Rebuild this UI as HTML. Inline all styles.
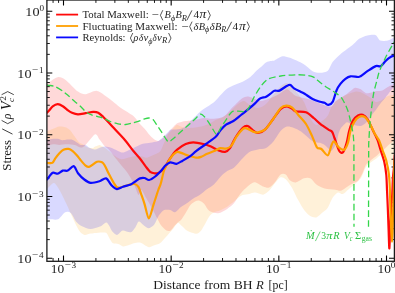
<!DOCTYPE html><html><head><meta charset="utf-8"><style>html,body{margin:0;padding:0;background:#fff;overflow:hidden}svg{display:block}text{font-family:"Liberation Serif",serif;fill:#1c1c1c}</style></head><body>
<svg style="will-change:transform" width="395" height="293" viewBox="0 0 395 293">
<defs><clipPath id="c"><rect x="46.90" y="0.00" width="347.50" height="261.30"/></clipPath></defs>
<rect width="395" height="293" fill="#fff"/>
<g clip-path="url(#c)">
<path d="M46.90,83.50 C47.19,83.33 47.36,83.20 48.90,82.30 C50.44,81.40 55.36,77.57 57.70,77.20 C60.04,76.83 62.40,77.64 65.30,79.70 C68.20,81.76 75.10,89.53 78.00,91.60 C80.90,93.67 82.89,94.30 85.60,94.20 C88.31,94.10 93.74,90.36 97.00,90.90 C100.26,91.44 104.97,95.56 108.40,98.00 C111.83,100.44 117.43,105.43 121.00,108.00 C124.57,110.57 130.69,113.71 133.40,116.00 C136.11,118.29 138.40,122.17 140.00,124.00 C141.60,125.83 143.29,127.30 144.60,128.80 C145.91,130.30 147.89,133.04 149.20,134.50 C150.51,135.96 152.49,138.07 153.80,139.00 C155.11,139.93 157.09,141.14 158.40,141.00 C159.71,140.86 161.69,139.07 163.00,138.00 C164.31,136.93 166.29,134.93 167.60,133.50 C168.91,132.07 170.89,129.44 172.20,128.00 C173.51,126.56 175.49,124.27 176.80,123.40 C178.11,122.53 180.09,122.23 181.40,121.90 C182.71,121.57 184.69,121.30 186.00,121.10 C187.31,120.90 189.31,120.66 190.60,120.50 C191.89,120.34 193.06,120.36 195.00,120.00 C196.94,119.64 201.79,118.17 204.20,118.00 C206.61,117.83 209.70,118.80 211.90,118.80 C214.10,118.80 217.63,118.56 219.60,118.00 C221.57,117.44 223.96,116.33 225.70,114.90 C227.44,113.47 230.04,109.86 231.80,108.00 C233.56,106.14 236.46,103.33 238.00,101.90 C239.54,100.47 241.29,98.77 242.60,98.00 C243.91,97.23 245.89,96.56 247.20,96.50 C248.51,96.44 249.97,96.96 251.80,97.60 C253.63,98.24 257.69,100.80 260.00,101.00 C262.31,101.20 265.40,99.94 268.00,99.00 C270.60,98.06 275.59,95.77 278.20,94.40 C280.81,93.03 284.47,89.74 286.30,89.40 C288.13,89.06 289.76,91.11 291.00,92.00 C292.24,92.89 293.70,94.86 295.00,95.60 C296.30,96.34 298.64,96.83 300.10,97.20 C301.56,97.57 303.74,97.84 305.20,98.20 C306.66,98.56 308.74,99.16 310.30,99.70 C311.86,100.24 314.39,101.31 316.10,102.00 C317.81,102.69 320.69,103.89 322.30,104.50 C323.91,105.11 326.01,106.04 327.40,106.30 C328.79,106.56 330.83,107.01 332.00,106.30 C333.17,105.59 334.36,102.49 335.60,101.30 C336.84,100.11 339.21,98.97 340.70,98.00 C342.19,97.03 344.60,95.50 346.00,94.50 C347.40,93.50 349.21,91.97 350.50,91.00 C351.79,90.03 353.57,87.97 355.00,87.70 C356.43,87.43 358.93,88.31 360.50,89.10 C362.07,89.89 364.44,92.71 366.00,93.20 C367.56,93.69 369.86,92.80 371.40,92.50 C372.94,92.20 375.24,91.39 376.80,91.10 C378.36,90.81 380.73,91.09 382.30,90.50 C383.87,89.91 386.43,87.79 387.80,87.00 C389.17,86.21 390.87,85.43 391.90,85.00 C392.93,84.57 394.56,84.14 395.00,84.00 L395.00,140.00 C394.26,140.57 391.23,142.79 389.80,144.00 C388.37,145.21 386.26,147.43 385.00,148.50 C383.74,149.57 382.23,150.41 381.00,151.50 C379.77,152.59 377.93,154.79 376.40,156.10 C374.87,157.41 371.83,159.39 370.30,160.70 C368.77,162.01 366.80,163.54 365.70,165.30 C364.60,167.06 363.70,170.80 362.60,173.00 C361.50,175.20 359.31,179.27 358.00,180.70 C356.69,182.13 354.93,182.13 353.40,183.00 C351.87,183.87 349.07,185.70 347.30,186.80 C345.53,187.90 342.76,190.27 341.00,190.70 C339.24,191.13 337.34,190.11 335.00,189.80 C332.66,189.49 327.26,189.27 324.60,188.50 C321.94,187.73 318.46,185.86 316.40,184.40 C314.34,182.94 311.96,179.17 310.20,178.30 C308.44,177.43 306.14,177.71 304.10,178.30 C302.06,178.89 297.94,182.11 295.90,182.40 C293.86,182.69 291.26,181.43 289.80,180.30 C288.34,179.17 287.01,175.33 285.70,174.50 C284.39,173.67 282.06,173.51 280.60,174.50 C279.14,175.49 277.11,179.54 275.50,181.40 C273.89,183.26 271.06,186.77 269.30,187.50 C267.54,188.23 265.24,187.26 263.20,186.50 C261.16,185.74 256.97,182.41 255.00,182.20 C253.03,181.99 251.14,183.73 249.40,185.00 C247.66,186.27 244.39,189.43 242.80,191.10 C241.21,192.77 239.57,194.96 238.30,196.70 C237.03,198.44 235.49,201.56 233.90,203.30 C232.31,205.04 229.43,207.47 227.20,208.90 C224.97,210.33 220.84,212.99 218.30,213.30 C215.76,213.61 211.43,212.46 209.40,211.10 C207.37,209.74 205.51,205.29 204.10,203.80 C202.69,202.31 200.80,201.03 199.50,200.70 C198.20,200.37 196.31,200.84 195.00,201.50 C193.69,202.16 191.63,203.66 190.30,205.30 C188.97,206.94 187.03,210.90 185.70,213.00 C184.37,215.10 182.10,218.69 181.00,220.00 C179.90,221.31 178.86,221.44 178.00,222.20 C177.14,222.96 176.10,224.09 175.00,225.30 C173.90,226.51 171.63,230.04 170.30,230.70 C168.97,231.36 167.03,230.67 165.70,229.90 C164.37,229.13 162.10,226.71 161.00,225.30 C159.90,223.89 158.60,221.10 158.00,220.00 C157.40,218.90 157.63,219.26 156.80,217.60 C155.97,215.94 153.74,211.24 152.20,208.40 C150.66,205.56 147.54,200.33 146.00,197.70 C144.46,195.07 142.49,190.41 141.40,190.00 C140.31,189.59 139.49,195.69 138.40,194.80 C137.31,193.91 135.34,186.91 133.80,183.80 C132.26,180.69 129.57,175.86 127.60,173.00 C125.63,170.14 122.63,167.09 120.00,163.80 C117.37,160.51 111.46,152.59 109.20,150.00 C106.94,147.41 105.57,147.19 104.20,145.70 C102.83,144.21 100.86,141.24 99.60,139.60 C98.34,137.96 97.06,133.86 95.40,134.20 C93.74,134.54 89.53,140.31 88.00,142.00 C86.47,143.69 85.73,145.21 84.70,146.00 C83.67,146.79 82.23,147.66 80.80,147.50 C79.37,147.34 76.67,145.37 74.70,144.90 C72.73,144.43 69.20,144.20 67.00,144.20 C64.80,144.20 61.27,144.90 59.30,144.90 C57.33,144.90 54.84,144.09 53.20,144.20 C51.56,144.31 48.70,145.44 47.80,145.70 C46.90,145.96 47.03,145.96 46.90,146.00 Z" fill="#ff0000" fill-opacity="0.15"/>
<path d="M46.90,131.50 C47.03,131.44 46.90,131.49 47.80,131.10 C48.70,130.71 51.56,129.46 53.20,128.80 C54.84,128.14 57.54,126.71 59.30,126.50 C61.06,126.29 63.96,126.76 65.50,127.30 C67.04,127.84 68.79,128.99 70.10,130.30 C71.41,131.61 73.39,134.74 74.70,136.50 C76.01,138.26 77.99,141.40 79.30,142.60 C80.61,143.80 82.66,144.20 83.90,144.90 C85.14,145.60 86.70,147.06 88.00,147.50 C89.30,147.94 92.00,148.14 93.00,148.00 C94.00,147.86 94.06,146.94 95.00,146.50 C95.94,146.06 98.50,144.90 99.60,144.90 C100.70,144.90 101.93,146.06 102.70,146.50 C103.47,146.94 104.10,147.36 105.00,148.00 C105.90,148.64 107.57,149.86 109.00,151.00 C110.43,152.14 113.21,154.83 115.00,156.00 C116.79,157.17 119.26,159.07 121.50,159.20 C123.74,159.33 128.06,157.34 130.70,156.90 C133.34,156.46 137.81,155.99 140.00,156.10 C142.19,156.21 144.26,157.80 146.00,157.70 C147.74,157.60 150.20,156.29 152.20,155.40 C154.20,154.51 158.31,153.27 160.00,151.50 C161.69,149.73 162.86,145.43 164.00,143.00 C165.14,140.57 166.86,136.36 168.00,134.50 C169.14,132.64 170.74,131.36 172.00,130.00 C173.26,128.64 175.51,125.50 176.80,125.00 C178.09,124.50 179.69,126.07 181.00,126.50 C182.31,126.93 184.00,127.86 186.00,128.00 C188.00,128.14 192.57,127.79 195.00,127.50 C197.43,127.21 200.86,126.57 203.00,126.00 C205.14,125.43 208.14,124.39 210.00,123.50 C211.86,122.61 214.29,120.61 216.00,119.80 C217.71,118.99 220.29,118.70 222.00,117.80 C223.71,116.90 226.57,114.64 228.00,113.50 C229.43,112.36 230.57,111.16 232.00,109.80 C233.43,108.44 236.29,105.26 238.00,104.00 C239.71,102.74 242.29,100.86 244.00,101.00 C245.71,101.14 248.00,104.00 250.00,105.00 C252.00,106.00 255.71,108.14 258.00,108.00 C260.29,107.86 263.71,106.00 266.00,104.00 C268.29,102.00 271.86,96.57 274.00,94.00 C276.14,91.43 279.14,87.57 281.00,86.00 C282.86,84.43 285.29,82.71 287.00,83.00 C288.71,83.29 291.43,86.43 293.00,88.00 C294.57,89.57 296.84,92.61 298.00,94.00 C299.16,95.39 300.21,96.51 301.10,97.70 C301.99,98.89 303.46,100.91 304.20,102.30 C304.94,103.69 305.57,105.80 306.30,107.40 C307.03,109.00 308.57,111.71 309.30,113.50 C310.03,115.29 310.73,118.47 311.40,119.90 C312.07,121.33 313.17,122.79 314.00,123.50 C314.83,124.21 316.16,125.17 317.20,124.90 C318.24,124.63 320.14,122.51 321.30,121.60 C322.46,120.69 324.29,119.53 325.30,118.50 C326.31,117.47 327.73,115.57 328.40,114.40 C329.07,113.23 329.49,111.50 330.00,110.30 C330.51,109.10 331.29,107.19 332.00,106.00 C332.71,104.81 334.00,103.00 335.00,102.00 C336.00,101.00 337.86,99.79 339.00,99.00 C340.14,98.21 341.86,97.14 343.00,96.50 C344.14,95.86 345.86,95.00 347.00,94.50 C348.14,94.00 349.71,93.43 351.00,93.00 C352.29,92.57 354.71,91.64 356.00,91.50 C357.29,91.36 358.57,91.50 360.00,92.00 C361.43,92.50 364.43,94.14 366.00,95.00 C367.57,95.86 369.57,97.00 371.00,98.00 C372.43,99.00 374.43,101.71 376.00,102.00 C377.57,102.29 380.29,100.86 382.00,100.00 C383.71,99.14 386.14,96.71 388.00,96.00 C389.86,95.29 394.00,95.14 395.00,95.00 L395.00,165.50 C394.43,165.43 392.00,165.43 391.00,165.00 C390.00,164.57 388.86,163.50 388.00,162.50 C387.14,161.50 385.86,159.17 385.00,158.00 C384.14,156.83 383.23,154.23 382.00,154.30 C380.77,154.37 378.07,157.29 376.40,158.50 C374.73,159.71 371.83,161.51 370.30,162.80 C368.77,164.09 367.03,165.33 365.70,167.50 C364.37,169.67 362.53,175.64 361.00,178.00 C359.47,180.36 356.57,182.57 355.00,184.00 C353.43,185.43 351.71,186.57 350.00,188.00 C348.29,189.43 344.73,193.36 343.00,194.00 C341.27,194.64 339.36,191.99 337.90,192.50 C336.44,193.01 334.24,195.43 332.80,197.60 C331.36,199.77 329.27,205.57 327.80,207.70 C326.33,209.83 324.13,211.11 322.50,212.50 C320.87,213.89 318.16,216.89 316.40,217.40 C314.64,217.91 311.96,217.16 310.20,216.10 C308.44,215.04 305.84,212.33 304.10,210.00 C302.36,207.67 299.76,203.01 298.00,199.80 C296.24,196.59 293.56,190.43 291.80,187.50 C290.04,184.57 287.30,180.76 285.70,179.30 C284.10,177.84 282.06,176.83 280.60,177.30 C279.14,177.77 277.11,180.70 275.50,182.60 C273.89,184.50 271.06,188.87 269.30,190.60 C267.54,192.33 265.24,194.41 263.20,194.70 C261.16,194.99 256.97,192.70 255.00,192.60 C253.03,192.50 251.14,193.66 249.40,194.00 C247.66,194.34 244.39,194.46 242.80,195.00 C241.21,195.54 239.57,196.86 238.30,197.80 C237.03,198.74 235.49,200.33 233.90,201.60 C232.31,202.87 229.19,205.43 227.20,206.70 C225.21,207.97 221.74,209.74 220.00,210.50 C218.26,211.26 216.40,211.31 215.00,212.00 C213.60,212.69 211.54,213.73 210.20,215.30 C208.86,216.87 206.91,220.80 205.60,223.00 C204.29,225.20 202.31,229.17 201.00,230.70 C199.69,232.23 198.37,233.70 196.40,233.70 C194.43,233.70 189.27,231.80 187.20,230.70 C185.13,229.60 183.21,227.10 181.90,226.00 C180.59,224.90 179.21,222.66 178.00,223.00 C176.79,223.34 174.71,226.87 173.40,228.40 C172.09,229.93 170.00,232.33 168.80,233.70 C167.60,235.07 166.26,236.63 165.00,238.00 C163.74,239.37 161.61,242.21 160.00,243.30 C158.39,244.39 155.26,245.04 153.70,245.60 C152.14,246.16 150.41,247.30 149.10,247.20 C147.79,247.10 145.80,245.57 144.50,244.90 C143.20,244.23 141.53,242.73 140.00,242.50 C138.47,242.27 135.57,242.86 133.80,243.30 C132.03,243.74 129.14,245.16 127.60,245.60 C126.06,246.04 124.31,246.61 123.00,246.40 C121.69,246.19 119.83,244.54 118.40,244.10 C116.97,243.66 114.11,243.84 113.00,243.30 C111.89,242.76 111.24,241.27 110.60,240.30 C109.96,239.33 109.16,237.57 108.50,236.50 C107.84,235.43 107.44,233.34 106.00,232.80 C104.56,232.26 100.59,232.59 98.40,232.70 C96.21,232.81 92.67,233.29 90.70,233.60 C88.73,233.91 86.13,235.17 84.60,234.90 C83.07,234.63 81.33,233.34 80.00,231.70 C78.67,230.06 76.66,226.07 75.30,223.40 C73.94,220.73 71.83,215.91 70.50,213.00 C69.17,210.09 67.50,206.14 66.00,203.00 C64.50,199.86 61.71,193.86 60.00,191.00 C58.29,188.14 55.71,183.43 54.00,183.00 C52.29,182.57 49.01,187.21 48.00,188.00 C46.99,188.79 47.06,188.43 46.90,188.50 Z" fill="#ffa000" fill-opacity="0.15"/>
<path d="M46.90,139.80 C47.03,139.77 46.90,139.74 47.80,139.60 C48.70,139.46 51.77,138.91 53.20,138.80 C54.63,138.69 56.49,138.59 57.80,138.80 C59.11,139.01 61.09,140.19 62.40,140.30 C63.71,140.41 65.69,139.70 67.00,139.60 C68.31,139.50 70.29,139.27 71.60,139.60 C72.91,139.93 74.89,141.14 76.20,141.90 C77.51,142.66 79.49,144.47 80.80,144.90 C82.11,145.33 84.09,144.46 85.40,144.90 C86.71,145.34 88.63,147.34 90.00,148.00 C91.37,148.66 93.43,149.61 95.00,149.50 C96.57,149.39 99.47,147.63 101.00,147.20 C102.53,146.77 104.14,146.39 105.70,146.50 C107.26,146.61 110.14,147.36 111.90,148.00 C113.66,148.64 116.47,150.34 118.00,151.00 C119.53,151.66 121.29,152.60 122.60,152.60 C123.91,152.60 125.66,151.66 127.20,151.00 C128.74,150.34 131.64,148.87 133.40,148.00 C135.16,147.13 137.97,145.56 139.50,144.90 C141.03,144.24 142.79,143.67 144.10,143.40 C145.41,143.13 147.10,143.23 148.70,143.00 C150.30,142.77 153.91,142.09 155.30,141.80 C156.69,141.51 157.30,141.66 158.40,141.00 C159.50,140.34 161.69,138.40 163.00,137.20 C164.31,136.00 166.50,133.69 167.60,132.60 C168.70,131.51 169.50,130.04 170.70,129.60 C171.90,129.16 174.67,129.59 176.00,129.50 C177.33,129.41 178.76,129.37 180.00,129.00 C181.24,128.63 183.33,127.90 184.70,126.90 C186.07,125.90 188.19,123.40 189.60,122.00 C191.01,120.60 193.19,118.50 194.60,117.10 C196.01,115.70 198.10,113.43 199.50,112.20 C200.90,110.97 203.00,109.47 204.40,108.50 C205.80,107.53 207.79,106.44 209.30,105.40 C210.81,104.36 213.31,102.76 215.00,101.20 C216.69,99.64 219.34,96.30 221.10,94.50 C222.86,92.70 225.31,90.00 227.30,88.60 C229.29,87.20 232.81,85.69 235.00,84.70 C237.19,83.71 240.41,82.80 242.60,81.70 C244.79,80.60 248.33,78.56 250.30,77.00 C252.27,75.44 254.64,72.46 256.40,70.80 C258.16,69.14 261.17,66.63 262.60,65.40 C264.03,64.17 265.27,62.83 266.40,62.20 C267.53,61.57 269.34,61.26 270.50,61.00 C271.66,60.74 273.34,60.81 274.50,60.40 C275.66,59.99 277.43,58.70 278.60,58.10 C279.77,57.50 281.07,56.24 282.70,56.20 C284.33,56.16 287.03,56.69 290.00,57.80 C292.97,58.91 300.27,62.09 303.50,64.00 C306.73,65.91 310.21,69.96 312.60,71.20 C314.99,72.44 318.03,72.77 320.20,72.70 C322.37,72.63 326.00,72.26 327.80,70.70 C329.60,69.14 331.00,64.16 332.80,61.80 C334.60,59.44 337.87,56.39 340.40,54.20 C342.93,52.01 348.41,48.14 350.50,46.50 C352.59,44.86 353.77,43.81 355.00,42.70 C356.23,41.59 357.34,39.74 359.10,38.70 C360.86,37.66 364.96,35.93 367.30,35.40 C369.64,34.87 373.64,34.26 375.50,35.00 C377.36,35.74 378.54,39.80 380.30,40.60 C382.06,41.40 385.91,41.00 387.80,40.60 C389.69,40.20 392.47,38.24 393.50,37.80 C394.53,37.36 394.79,37.54 395.00,37.50 L395.00,86.50 C394.56,86.90 393.24,87.73 391.90,89.30 C390.56,90.87 387.16,95.57 385.60,97.50 C384.04,99.43 382.31,101.13 381.00,102.80 C379.69,104.47 377.93,107.19 376.40,109.20 C374.87,111.21 371.83,114.93 370.30,116.90 C368.77,118.87 367.03,121.70 365.70,123.00 C364.37,124.30 362.53,125.67 361.00,126.00 C359.47,126.33 356.96,125.84 355.00,125.30 C353.04,124.76 348.80,122.34 347.30,122.20 C345.80,122.06 345.44,123.40 344.50,124.30 C343.56,125.20 341.57,127.09 340.70,128.50 C339.83,129.91 338.96,132.29 338.40,134.20 C337.84,136.11 337.46,139.93 336.80,141.90 C336.14,143.87 334.63,146.70 333.80,148.00 C332.97,149.30 331.77,150.93 331.00,151.00 C330.23,151.07 329.31,149.36 328.40,148.50 C327.49,147.64 325.80,145.81 324.60,145.00 C323.40,144.19 321.54,143.24 320.00,142.80 C318.46,142.36 315.43,142.59 313.80,141.90 C312.17,141.21 310.43,139.47 308.60,138.00 C306.77,136.53 303.17,133.06 301.00,131.60 C298.83,130.14 295.40,128.51 293.40,127.80 C291.40,127.09 288.80,126.17 287.00,126.60 C285.20,127.03 282.77,128.63 280.80,130.80 C278.83,132.97 275.37,139.30 273.20,141.80 C271.03,144.30 267.77,147.21 265.60,148.30 C263.43,149.39 260.31,148.87 258.00,149.40 C255.69,149.93 251.89,150.41 249.40,152.00 C246.91,153.59 242.81,158.24 240.60,160.50 C238.39,162.76 235.81,166.29 233.90,167.80 C231.99,169.31 229.10,169.83 227.20,171.10 C225.30,172.37 222.50,174.80 220.60,176.70 C218.70,178.60 215.81,182.64 213.90,184.40 C211.99,186.16 209.19,187.53 207.20,189.00 C205.21,190.47 201.97,193.36 200.00,194.70 C198.03,196.04 195.23,197.21 193.40,198.40 C191.57,199.59 188.97,201.79 187.20,203.00 C185.43,204.21 182.74,205.59 181.00,206.90 C179.26,208.21 176.53,211.76 175.00,212.20 C173.47,212.64 171.84,210.31 170.30,210.00 C168.76,209.69 165.73,209.36 164.20,210.00 C162.67,210.64 160.49,213.50 159.60,214.50 C158.71,215.50 158.79,215.54 158.00,217.00 C157.21,218.46 155.47,223.10 154.10,224.70 C152.73,226.30 149.99,228.20 148.40,228.20 C146.81,228.20 144.37,225.64 143.00,224.70 C141.63,223.76 139.90,221.21 138.80,221.60 C137.70,221.99 136.46,225.87 135.30,227.40 C134.14,228.93 132.46,231.86 130.70,232.30 C128.94,232.74 124.53,230.46 123.00,230.50 C121.47,230.54 120.87,231.96 120.00,232.60 C119.13,233.24 118.00,235.14 116.90,235.00 C115.80,234.86 113.40,232.91 112.30,231.60 C111.20,230.29 110.09,227.11 109.20,225.80 C108.31,224.49 107.41,222.29 106.10,222.40 C104.79,222.51 102.24,225.66 100.00,226.60 C97.76,227.54 92.97,229.06 90.40,229.00 C87.83,228.94 84.00,227.20 82.00,226.20 C80.00,225.20 78.00,223.89 76.40,222.00 C74.80,220.11 72.40,214.40 70.80,213.00 C69.20,211.60 67.00,211.31 65.20,212.20 C63.40,213.09 60.40,218.20 58.20,219.20 C56.00,220.20 51.41,219.16 49.80,219.20 C48.19,219.24 47.31,219.46 46.90,219.50 Z" fill="#0000ff" fill-opacity="0.15"/>
</g>
<path d="M46.90,258.20 h5.40 M394.40,258.20 h-5.40" stroke="#000" stroke-width="1.10"/><path d="M46.90,239.61 h2.90 M394.40,239.61 h-2.90" stroke="#000" stroke-width="0.90"/><path d="M46.90,228.74 h2.90 M394.40,228.74 h-2.90" stroke="#000" stroke-width="0.90"/><path d="M46.90,221.02 h2.90 M394.40,221.02 h-2.90" stroke="#000" stroke-width="0.90"/><path d="M46.90,215.04 h2.90 M394.40,215.04 h-2.90" stroke="#000" stroke-width="0.90"/><path d="M46.90,210.15 h2.90 M394.40,210.15 h-2.90" stroke="#000" stroke-width="0.90"/><path d="M46.90,206.02 h2.90 M394.40,206.02 h-2.90" stroke="#000" stroke-width="0.90"/><path d="M53.07,0.00 v2.90 M53.07,261.30 v-3.30" stroke="#000" stroke-width="0.90"/><path d="M46.90,202.43 h2.90 M394.40,202.43 h-2.90" stroke="#000" stroke-width="0.90"/><path d="M58.57,0.00 v2.90 M58.57,261.30 v-3.30" stroke="#000" stroke-width="0.90"/><path d="M46.90,199.28 h2.90 M394.40,199.28 h-2.90" stroke="#000" stroke-width="0.90"/><path d="M63.50,0.00 v5.40 M63.50,261.30 v-5.80" stroke="#000" stroke-width="1.10"/><path d="M46.90,196.45 h5.40 M394.40,196.45 h-5.40" stroke="#000" stroke-width="1.10"/><path d="M95.91,0.00 v2.90 M95.91,261.30 v-3.30" stroke="#000" stroke-width="0.90"/><path d="M46.90,177.86 h2.90 M394.40,177.86 h-2.90" stroke="#000" stroke-width="0.90"/><path d="M114.87,0.00 v2.90 M114.87,261.30 v-3.30" stroke="#000" stroke-width="0.90"/><path d="M46.90,166.99 h2.90 M394.40,166.99 h-2.90" stroke="#000" stroke-width="0.90"/><path d="M128.32,0.00 v2.90 M128.32,261.30 v-3.30" stroke="#000" stroke-width="0.90"/><path d="M46.90,159.27 h2.90 M394.40,159.27 h-2.90" stroke="#000" stroke-width="0.90"/><path d="M138.76,0.00 v2.90 M138.76,261.30 v-3.30" stroke="#000" stroke-width="0.90"/><path d="M46.90,153.29 h2.90 M394.40,153.29 h-2.90" stroke="#000" stroke-width="0.90"/><path d="M147.28,0.00 v2.90 M147.28,261.30 v-3.30" stroke="#000" stroke-width="0.90"/><path d="M46.90,148.40 h2.90 M394.40,148.40 h-2.90" stroke="#000" stroke-width="0.90"/><path d="M154.49,0.00 v2.90 M154.49,261.30 v-3.30" stroke="#000" stroke-width="0.90"/><path d="M46.90,144.27 h2.90 M394.40,144.27 h-2.90" stroke="#000" stroke-width="0.90"/><path d="M160.74,0.00 v2.90 M160.74,261.30 v-3.30" stroke="#000" stroke-width="0.90"/><path d="M46.90,140.68 h2.90 M394.40,140.68 h-2.90" stroke="#000" stroke-width="0.90"/><path d="M166.24,0.00 v2.90 M166.24,261.30 v-3.30" stroke="#000" stroke-width="0.90"/><path d="M46.90,137.53 h2.90 M394.40,137.53 h-2.90" stroke="#000" stroke-width="0.90"/><path d="M171.17,0.00 v5.40 M171.17,261.30 v-5.80" stroke="#000" stroke-width="1.10"/><path d="M46.90,134.70 h5.40 M394.40,134.70 h-5.40" stroke="#000" stroke-width="1.10"/><path d="M203.58,0.00 v2.90 M203.58,261.30 v-3.30" stroke="#000" stroke-width="0.90"/><path d="M46.90,116.11 h2.90 M394.40,116.11 h-2.90" stroke="#000" stroke-width="0.90"/><path d="M222.54,0.00 v2.90 M222.54,261.30 v-3.30" stroke="#000" stroke-width="0.90"/><path d="M46.90,105.24 h2.90 M394.40,105.24 h-2.90" stroke="#000" stroke-width="0.90"/><path d="M235.99,0.00 v2.90 M235.99,261.30 v-3.30" stroke="#000" stroke-width="0.90"/><path d="M46.90,97.52 h2.90 M394.40,97.52 h-2.90" stroke="#000" stroke-width="0.90"/><path d="M246.43,0.00 v2.90 M246.43,261.30 v-3.30" stroke="#000" stroke-width="0.90"/><path d="M46.90,91.54 h2.90 M394.40,91.54 h-2.90" stroke="#000" stroke-width="0.90"/><path d="M254.95,0.00 v2.90 M254.95,261.30 v-3.30" stroke="#000" stroke-width="0.90"/><path d="M46.90,86.65 h2.90 M394.40,86.65 h-2.90" stroke="#000" stroke-width="0.90"/><path d="M262.16,0.00 v2.90 M262.16,261.30 v-3.30" stroke="#000" stroke-width="0.90"/><path d="M46.90,82.52 h2.90 M394.40,82.52 h-2.90" stroke="#000" stroke-width="0.90"/><path d="M268.41,0.00 v2.90 M268.41,261.30 v-3.30" stroke="#000" stroke-width="0.90"/><path d="M46.90,78.93 h2.90 M394.40,78.93 h-2.90" stroke="#000" stroke-width="0.90"/><path d="M273.91,0.00 v2.90 M273.91,261.30 v-3.30" stroke="#000" stroke-width="0.90"/><path d="M46.90,75.78 h2.90 M394.40,75.78 h-2.90" stroke="#000" stroke-width="0.90"/><path d="M278.84,0.00 v5.40 M278.84,261.30 v-5.80" stroke="#000" stroke-width="1.10"/><path d="M46.90,72.95 h5.40 M394.40,72.95 h-5.40" stroke="#000" stroke-width="1.10"/><path d="M311.25,0.00 v2.90 M311.25,261.30 v-3.30" stroke="#000" stroke-width="0.90"/><path d="M46.90,54.36 h2.90 M394.40,54.36 h-2.90" stroke="#000" stroke-width="0.90"/><path d="M330.21,0.00 v2.90 M330.21,261.30 v-3.30" stroke="#000" stroke-width="0.90"/><path d="M46.90,43.49 h2.90 M394.40,43.49 h-2.90" stroke="#000" stroke-width="0.90"/><path d="M343.66,0.00 v2.90 M343.66,261.30 v-3.30" stroke="#000" stroke-width="0.90"/><path d="M46.90,35.77 h2.90 M394.40,35.77 h-2.90" stroke="#000" stroke-width="0.90"/><path d="M354.10,0.00 v2.90 M354.10,261.30 v-3.30" stroke="#000" stroke-width="0.90"/><path d="M46.90,29.79 h2.90 M394.40,29.79 h-2.90" stroke="#000" stroke-width="0.90"/><path d="M362.62,0.00 v2.90 M362.62,261.30 v-3.30" stroke="#000" stroke-width="0.90"/><path d="M46.90,24.90 h2.90 M394.40,24.90 h-2.90" stroke="#000" stroke-width="0.90"/><path d="M369.83,0.00 v2.90 M369.83,261.30 v-3.30" stroke="#000" stroke-width="0.90"/><path d="M46.90,20.77 h2.90 M394.40,20.77 h-2.90" stroke="#000" stroke-width="0.90"/><path d="M376.08,0.00 v2.90 M376.08,261.30 v-3.30" stroke="#000" stroke-width="0.90"/><path d="M46.90,17.18 h2.90 M394.40,17.18 h-2.90" stroke="#000" stroke-width="0.90"/><path d="M381.58,0.00 v2.90 M381.58,261.30 v-3.30" stroke="#000" stroke-width="0.90"/><path d="M46.90,14.03 h2.90 M394.40,14.03 h-2.90" stroke="#000" stroke-width="0.90"/><path d="M386.51,0.00 v5.40 M386.51,261.30 v-5.80" stroke="#000" stroke-width="1.10"/><path d="M46.90,11.20 h5.40 M394.40,11.20 h-5.40" stroke="#000" stroke-width="1.10"/>
<g clip-path="url(#c)">
<path d="M46.90,112.80 C47.19,112.51 48.07,111.71 48.90,110.80 C49.73,109.89 51.44,107.34 52.70,106.40 C53.96,105.46 56.26,104.23 57.70,104.20 C59.14,104.17 61.40,105.37 62.80,106.20 C64.20,107.03 66.19,109.06 67.50,110.00 C68.81,110.94 70.50,112.17 72.00,112.80 C73.50,113.43 76.06,114.34 78.00,114.40 C79.94,114.46 83.43,113.56 85.60,113.20 C87.77,112.84 91.40,111.97 93.20,111.90 C95.00,111.83 96.76,111.97 98.20,112.70 C99.64,113.43 101.57,115.36 103.30,117.00 C105.03,118.64 108.20,121.97 110.30,124.20 C112.40,126.43 115.80,130.20 118.00,132.60 C120.20,135.00 123.50,138.37 125.70,141.00 C127.90,143.63 131.37,148.50 133.40,151.00 C135.43,153.50 138.10,156.23 139.90,158.50 C141.70,160.77 144.47,164.94 146.00,166.90 C147.53,168.86 149.39,171.29 150.60,172.20 C151.81,173.11 153.40,173.19 154.50,173.30 C155.60,173.41 157.23,173.40 158.30,173.00 C159.37,172.60 161.04,171.31 162.00,170.50 C162.96,169.69 164.00,168.77 165.00,167.30 C166.00,165.83 167.79,162.16 169.00,160.20 C170.21,158.24 172.29,155.16 173.50,153.60 C174.71,152.04 175.76,150.67 177.50,149.30 C179.24,147.93 183.44,145.00 185.70,144.00 C187.96,143.00 190.77,142.30 193.30,142.30 C195.83,142.30 200.87,143.39 203.40,144.00 C205.93,144.61 208.83,145.69 211.00,146.60 C213.17,147.51 216.60,149.64 218.60,150.40 C220.60,151.16 223.37,152.23 225.00,151.90 C226.63,151.57 228.54,150.09 230.00,148.10 C231.46,146.11 233.37,140.90 235.20,138.00 C237.03,135.10 241.00,129.51 242.80,127.80 C244.60,126.09 246.34,125.63 247.80,126.00 C249.26,126.37 251.54,129.40 253.00,130.40 C254.46,131.40 256.20,133.19 258.00,133.00 C259.80,132.81 263.43,131.10 265.60,129.10 C267.77,127.10 271.03,121.89 273.20,119.00 C275.37,116.11 278.83,110.71 280.80,108.90 C282.77,107.09 285.37,106.30 287.00,106.30 C288.63,106.30 290.91,108.17 292.20,108.90 C293.49,109.63 294.03,110.93 296.00,111.40 C297.97,111.87 303.47,111.26 306.00,112.20 C308.53,113.14 311.67,116.34 313.70,118.00 C315.73,119.66 318.10,122.14 320.20,123.80 C322.30,125.46 326.69,128.43 328.40,129.60 C330.11,130.77 331.33,130.80 332.20,132.00 C333.07,133.20 333.51,135.33 334.50,138.00 C335.49,140.67 337.89,148.67 339.10,150.70 C340.31,152.73 341.91,153.36 343.00,152.20 C344.09,151.04 345.81,145.67 346.70,142.60 C347.59,139.53 348.30,133.84 349.20,130.70 C350.10,127.56 351.74,122.77 353.00,120.60 C354.26,118.43 356.61,116.33 358.00,115.50 C359.39,114.67 361.33,114.26 362.70,114.80 C364.07,115.34 366.20,117.21 367.60,119.30 C369.00,121.39 371.40,127.11 372.50,129.40 C373.60,131.69 374.59,133.79 375.30,135.30 C376.01,136.81 376.74,137.90 377.50,140.00 C378.26,142.10 379.63,146.86 380.60,150.00 C381.57,153.14 383.49,158.43 384.30,162.00 C385.11,165.57 385.91,171.00 386.30,175.00 C386.69,179.00 386.79,185.29 387.00,190.00 C387.21,194.71 387.57,202.29 387.80,208.00 C388.03,213.71 388.39,224.24 388.60,230.00 C388.81,235.76 389.11,247.44 389.30,248.30 C389.49,249.16 389.69,240.76 389.90,236.00 C390.11,231.24 390.47,220.86 390.80,215.00 C391.13,209.14 391.90,200.29 392.20,195.00 C392.50,189.71 392.66,181.86 392.90,178.00 C393.14,174.14 393.63,171.29 393.90,168.00 C394.17,164.71 394.67,156.86 394.80,155.00" fill="none" stroke="#ff0a0a" stroke-width="2.2" stroke-linejoin="round" stroke-linecap="round"/>
<path d="M46.90,162.90 C47.67,162.90 51.10,163.56 52.30,162.90 C53.50,162.24 54.29,159.69 55.30,158.30 C56.31,156.91 58.23,154.43 59.40,153.20 C60.57,151.97 62.19,150.31 63.50,149.70 C64.81,149.09 67.29,148.70 68.60,148.90 C69.91,149.10 71.53,150.20 72.70,151.10 C73.87,152.00 75.76,154.03 76.80,155.20 C77.84,156.37 78.74,157.81 80.00,159.30 C81.26,160.79 84.26,164.53 85.60,165.60 C86.94,166.67 87.77,167.34 89.40,166.80 C91.03,166.26 95.20,162.44 97.00,161.80 C98.80,161.16 100.91,161.80 102.00,162.30 C103.09,162.80 103.57,163.54 104.60,165.30 C105.63,167.06 107.89,172.07 109.20,174.60 C110.51,177.13 112.60,181.14 113.80,183.00 C115.00,184.86 116.21,187.10 117.60,187.60 C118.99,188.10 121.73,186.93 123.50,186.50 C125.27,186.07 128.43,184.96 130.00,184.60 C131.57,184.24 133.30,183.69 134.50,184.00 C135.70,184.31 137.41,185.26 138.40,186.80 C139.39,188.34 140.53,192.37 141.40,194.80 C142.27,197.23 143.44,200.43 144.50,203.80 C145.56,207.17 147.54,218.19 148.80,218.40 C150.06,218.61 151.94,209.36 153.30,205.30 C154.66,201.24 157.24,193.07 158.30,190.00 C159.36,186.93 159.86,186.66 160.70,183.80 C161.54,180.94 163.04,173.30 164.20,170.00 C165.36,166.70 167.49,162.90 168.80,160.70 C170.11,158.50 172.20,155.87 173.40,154.60 C174.60,153.33 175.89,151.97 177.20,151.80 C178.51,151.63 180.94,152.83 182.60,153.40 C184.26,153.97 186.83,155.19 188.80,155.80 C190.77,156.41 194.66,157.54 196.40,157.70 C198.14,157.86 199.46,157.46 201.00,156.90 C202.54,156.34 205.20,154.67 207.20,153.80 C209.20,152.93 213.17,151.61 215.00,150.80 C216.83,149.99 218.39,148.41 220.00,148.10 C221.61,147.79 224.67,148.96 226.30,148.60 C227.93,148.24 229.94,147.30 231.40,145.60 C232.86,143.90 234.87,139.06 236.50,136.70 C238.13,134.34 241.36,130.29 242.80,129.10 C244.24,127.91 245.14,128.04 246.60,128.40 C248.06,128.76 251.37,131.03 253.00,131.60 C254.63,132.17 256.20,132.76 258.00,132.40 C259.80,132.04 263.43,131.01 265.60,129.10 C267.77,127.19 271.03,122.00 273.20,119.00 C275.37,116.00 278.93,110.01 280.80,108.10 C282.67,106.19 284.67,105.67 286.30,105.60 C287.93,105.53 290.46,106.23 292.20,107.60 C293.94,108.97 296.53,112.86 298.50,115.20 C300.47,117.54 304.10,121.11 306.00,124.00 C307.90,126.89 310.24,132.07 311.80,135.40 C313.36,138.73 315.53,145.36 316.90,147.30 C318.27,149.24 319.84,147.86 321.40,149.00 C322.96,150.14 326.36,155.84 327.80,155.30 C329.24,154.76 330.61,147.19 331.50,145.20 C332.39,143.21 332.91,141.04 334.00,141.40 C335.09,141.76 337.64,146.51 339.10,147.70 C340.56,148.89 342.93,150.43 344.20,149.70 C345.47,148.97 347.10,145.31 348.00,142.60 C348.90,139.89 349.60,133.67 350.50,130.70 C351.40,127.73 353.04,123.79 354.30,121.80 C355.56,119.81 357.86,117.51 359.30,116.80 C360.74,116.09 362.94,115.90 364.40,116.80 C365.86,117.70 368.06,120.76 369.50,123.10 C370.94,125.44 373.43,131.19 374.50,133.20 C375.57,135.21 376.31,136.09 377.00,137.20 C377.69,138.31 378.51,139.17 379.30,141.00 C380.09,142.83 381.47,147.07 382.50,150.00 C383.53,152.93 385.57,157.93 386.50,161.50 C387.43,165.07 388.51,170.93 389.00,175.00 C389.49,179.07 389.70,185.29 389.90,190.00 C390.10,194.71 390.20,202.00 390.40,208.00 C390.60,214.00 391.07,227.14 391.30,232.00 C391.53,236.86 391.81,242.00 392.00,242.00 C392.19,242.00 392.43,236.86 392.60,232.00 C392.77,227.14 393.03,214.00 393.20,208.00 C393.37,202.00 393.69,194.71 393.80,190.00 C393.91,185.29 393.89,179.29 394.00,175.00 C394.11,170.71 394.51,162.14 394.60,160.00" fill="none" stroke="#ffa000" stroke-width="2.2" stroke-linejoin="round" stroke-linecap="round"/>
<path d="M46.90,179.50 C47.00,179.39 46.77,179.67 47.60,178.70 C48.43,177.73 51.26,173.41 52.70,172.70 C54.14,171.99 56.26,174.00 57.70,173.70 C59.14,173.40 61.36,171.04 62.80,170.60 C64.24,170.16 66.24,171.24 67.80,170.60 C69.36,169.96 72.24,165.73 73.70,166.10 C75.16,166.47 76.49,171.29 78.00,173.20 C79.51,175.11 82.50,178.13 84.30,179.50 C86.10,180.87 88.43,182.56 90.60,182.80 C92.77,183.04 97.29,181.83 99.50,181.20 C101.71,180.57 104.39,177.81 106.10,178.40 C107.81,178.99 109.96,183.77 111.50,185.30 C113.04,186.83 115.26,188.89 116.90,189.10 C118.54,189.31 121.03,187.46 123.00,186.80 C124.97,186.14 128.94,185.26 130.70,184.50 C132.46,183.74 133.97,182.37 135.30,181.50 C136.63,180.63 138.69,178.90 140.00,178.40 C141.31,177.90 143.20,177.77 144.50,178.00 C145.80,178.23 147.57,180.21 149.10,180.00 C150.63,179.79 153.49,177.83 155.20,176.50 C156.91,175.17 159.60,172.30 161.10,170.70 C162.60,169.10 164.39,166.50 165.70,165.30 C167.01,164.10 168.76,162.51 170.30,162.30 C171.84,162.09 174.74,164.03 176.50,163.80 C178.26,163.57 180.63,161.80 182.60,160.70 C184.57,159.60 188.33,157.51 190.30,156.10 C192.27,154.69 194.16,152.53 196.40,150.80 C198.64,149.07 203.20,146.04 206.00,144.00 C208.80,141.96 213.96,138.43 216.00,136.50 C218.04,134.57 218.91,132.16 220.30,130.50 C221.69,128.84 223.83,126.26 225.70,124.90 C227.57,123.54 231.21,122.41 233.40,121.00 C235.59,119.59 238.81,116.74 241.00,115.00 C243.19,113.26 246.70,110.46 248.70,108.80 C250.70,107.14 253.46,104.83 255.00,103.40 C256.54,101.97 258.43,99.63 259.50,98.80 C260.57,97.97 261.63,97.86 262.50,97.60 C263.37,97.34 264.50,97.53 265.60,97.00 C266.70,96.47 268.94,94.79 270.20,93.90 C271.46,93.01 273.07,91.27 274.40,90.80 C275.73,90.33 277.87,91.21 279.50,90.60 C281.13,89.99 284.54,87.27 285.80,86.50 C287.06,85.73 287.63,85.41 288.30,85.20 C288.97,84.99 289.69,84.56 290.50,85.00 C291.31,85.44 292.50,87.31 294.00,88.30 C295.50,89.29 299.43,91.09 301.00,91.90 C302.57,92.71 303.34,92.99 305.00,94.00 C306.66,95.01 310.43,97.89 312.60,99.00 C314.77,100.11 318.49,101.26 320.20,101.80 C321.91,102.34 323.43,102.36 324.60,102.80 C325.77,103.24 327.23,105.07 328.40,104.90 C329.57,104.73 331.63,103.70 332.80,101.60 C333.97,99.50 335.51,92.73 336.60,90.20 C337.69,87.67 339.14,85.53 340.40,83.90 C341.66,82.27 343.96,79.89 345.40,78.80 C346.84,77.71 348.70,76.56 350.50,76.30 C352.30,76.04 356.56,77.01 358.00,77.00 C359.44,76.99 359.14,77.10 360.60,76.20 C362.06,75.30 366.03,72.14 368.20,70.70 C370.37,69.26 374.00,66.76 375.80,66.10 C377.60,65.44 379.36,66.89 380.80,66.10 C382.24,65.31 384.44,61.93 385.90,60.60 C387.36,59.27 389.70,57.53 391.00,56.80 C392.30,56.07 394.43,55.69 395.00,55.50" fill="none" stroke="#0a0aff" stroke-width="2.2" stroke-linejoin="round" stroke-linecap="round"/>
<path d="M46.90,85.00 C47.19,85.04 47.71,85.07 48.90,85.30 C50.09,85.53 53.21,85.76 55.20,86.60 C57.19,87.44 60.96,89.93 62.80,91.20 C64.64,92.47 66.47,94.09 68.10,95.50 C69.73,96.91 72.44,99.56 74.20,101.10 C75.96,102.64 78.71,104.74 80.40,106.30 C82.09,107.86 84.40,110.77 86.00,112.00 C87.60,113.23 89.91,114.24 91.60,114.90 C93.29,115.56 96.03,116.09 97.80,116.60 C99.57,117.11 102.21,117.80 104.00,118.50 C105.79,119.20 108.30,120.74 110.30,121.50 C112.30,122.26 115.80,123.37 118.00,123.80 C120.20,124.23 123.50,124.66 125.70,124.50 C127.90,124.34 131.21,123.29 133.40,122.70 C135.59,122.11 139.40,120.96 141.00,120.40 C142.60,119.84 143.43,119.14 144.60,118.80 C145.77,118.46 148.00,117.89 149.20,118.00 C150.40,118.11 151.90,118.60 153.00,119.60 C154.10,120.60 155.69,123.24 156.90,125.00 C158.11,126.76 160.30,130.04 161.50,131.90 C162.70,133.76 164.31,136.59 165.30,138.00 C166.29,139.41 167.41,141.59 168.40,141.80 C169.39,142.01 170.54,140.81 172.20,139.50 C173.86,138.19 177.80,134.57 180.00,132.60 C182.20,130.63 185.64,127.46 187.60,125.70 C189.56,123.94 191.87,121.94 193.70,120.30 C195.53,118.66 198.90,114.74 200.40,114.20 C201.90,113.66 203.00,115.30 204.20,116.50 C205.40,117.70 207.54,120.74 208.80,122.60 C210.06,124.46 211.97,127.87 213.00,129.50 C214.03,131.13 215.26,133.50 216.00,134.00 C216.74,134.50 217.47,133.97 218.20,133.00 C218.93,132.03 220.03,129.01 221.10,127.20 C222.17,125.39 224.17,122.49 225.70,120.30 C227.23,118.11 230.04,113.20 231.80,111.90 C233.56,110.60 236.03,111.27 238.00,111.20 C239.97,111.13 243.96,112.07 245.60,111.40 C247.24,110.73 248.30,108.51 249.50,106.50 C250.70,104.49 252.43,100.11 254.00,97.30 C255.57,94.49 258.50,89.39 260.50,86.80 C262.50,84.21 265.10,80.74 268.00,79.20 C270.90,77.66 276.80,76.63 280.80,76.00 C284.80,75.37 292.44,74.93 296.00,74.80 C299.56,74.67 303.56,74.90 305.70,75.10 C307.84,75.30 309.74,75.84 311.00,76.20 C312.26,76.56 313.61,77.07 314.50,77.60 C315.39,78.13 316.16,79.03 317.20,79.90 C318.24,80.77 320.47,82.66 321.80,83.70 C323.13,84.74 325.11,86.26 326.50,87.20 C327.89,88.14 330.07,89.40 331.50,90.30 C332.93,91.20 335.09,92.44 336.50,93.50 C337.91,94.56 340.21,96.27 341.40,97.70 C342.59,99.13 343.91,101.74 344.80,103.50 C345.69,105.26 346.89,107.93 347.60,110.00 C348.31,112.07 349.26,115.81 349.80,118.00 C350.34,120.19 350.91,122.90 351.40,125.30 C351.89,127.70 352.84,132.16 353.20,134.80 C353.56,137.44 353.80,142.51 353.90,143.80 L354.00,226.80" fill="none" stroke="#33d64a" stroke-width="1.3" stroke-dasharray="6.6 3.3"/>
<path d="M368.50,226.80 L368.70,143.80 C368.91,140.49 369.54,127.53 370.20,120.60 C370.86,113.67 372.33,101.09 373.30,95.30 C374.27,89.51 376.10,83.61 377.00,80.10 C377.90,76.59 378.33,74.03 379.60,70.70 C380.87,67.37 384.10,60.41 385.90,56.80 C387.70,53.19 390.90,47.66 392.20,45.40 C393.50,43.14 394.60,41.63 395.00,41.00" fill="none" stroke="#33d64a" stroke-width="1.3" stroke-dasharray="6.6 3.3"/>
</g>
<rect x="46.90" y="0.00" width="347.50" height="261.30" fill="none" stroke="#1a1a1a" stroke-width="1.3"/>
<text x="25.30" y="15.95" font-size="13.2" textLength="14.20" lengthAdjust="spacingAndGlyphs">10</text><text x="39.40" y="11.45" font-size="9.2">0</text>
<text x="17.30" y="77.70" font-size="13.2" textLength="14.20" lengthAdjust="spacingAndGlyphs">10</text><text x="31.80" y="73.20" font-size="9.2" textLength="6.3" lengthAdjust="spacingAndGlyphs">−</text><text x="38.90" y="73.20" font-size="9.2">1</text>
<text x="17.30" y="139.45" font-size="13.2" textLength="14.20" lengthAdjust="spacingAndGlyphs">10</text><text x="31.80" y="134.95" font-size="9.2" textLength="6.3" lengthAdjust="spacingAndGlyphs">−</text><text x="38.90" y="134.95" font-size="9.2">2</text>
<text x="17.30" y="201.20" font-size="13.2" textLength="14.20" lengthAdjust="spacingAndGlyphs">10</text><text x="31.80" y="196.70" font-size="9.2" textLength="6.3" lengthAdjust="spacingAndGlyphs">−</text><text x="38.90" y="196.70" font-size="9.2">3</text>
<text x="17.30" y="262.95" font-size="13.2" textLength="14.20" lengthAdjust="spacingAndGlyphs">10</text><text x="31.80" y="258.45" font-size="9.2" textLength="6.3" lengthAdjust="spacingAndGlyphs">−</text><text x="38.90" y="258.45" font-size="9.2">4</text>
<text x="50.80" y="272.80" font-size="13.2" textLength="13.40" lengthAdjust="spacingAndGlyphs">10</text><text x="64.50" y="268.30" font-size="9.2" textLength="6.3" lengthAdjust="spacingAndGlyphs">−</text><text x="71.40" y="268.30" font-size="9.2">3</text>
<text x="158.47" y="272.80" font-size="13.2" textLength="13.40" lengthAdjust="spacingAndGlyphs">10</text><text x="172.17" y="268.30" font-size="9.2" textLength="6.3" lengthAdjust="spacingAndGlyphs">−</text><text x="179.07" y="268.30" font-size="9.2">2</text>
<text x="266.14" y="272.80" font-size="13.2" textLength="13.40" lengthAdjust="spacingAndGlyphs">10</text><text x="279.84" y="268.30" font-size="9.2" textLength="6.3" lengthAdjust="spacingAndGlyphs">−</text><text x="286.74" y="268.30" font-size="9.2">1</text>
<text x="377.51" y="272.80" font-size="13.2" textLength="13.40" lengthAdjust="spacingAndGlyphs">10</text><text x="390.81" y="268.30" font-size="9.2">0</text>
<path d="M56.1,14.6 H78.1" stroke="#ff0a0a" stroke-width="1.8"/>
<path d="M56.1,26.0 H78.1" stroke="#ffa000" stroke-width="1.8"/>
<path d="M56.1,37.4 H78.1" stroke="#0a0aff" stroke-width="1.8"/>
<text x="82.50" y="18.40" font-size="11" textLength="66.20" lengthAdjust="spacingAndGlyphs">Total Maxwell:</text>
<text x="151.40" y="18.40" font-size="11" textLength="7.20" lengthAdjust="spacingAndGlyphs">−</text>
<path d="M162.80,10.20 L160.40,15.25 L162.80,20.30" fill="none" stroke="#000" stroke-width="0.65"/>
<text x="164.60" y="18.40" font-size="11" textLength="6.30" lengthAdjust="spacingAndGlyphs" font-style="italic">B</text>
<text x="170.90" y="20.70" font-size="8.3" textLength="4.20" lengthAdjust="spacingAndGlyphs" font-style="italic">ϕ</text>
<text x="175.50" y="18.40" font-size="11" textLength="6.30" lengthAdjust="spacingAndGlyphs" font-style="italic">B</text>
<text x="181.80" y="20.60" font-size="8.3" textLength="5.20" lengthAdjust="spacingAndGlyphs" font-style="italic">R</text>
<path d="M186.90,20.20 L191.90,10.40" fill="none" stroke="#000" stroke-width="0.7"/>
<text x="193.40" y="18.40" font-size="11" textLength="5.60" lengthAdjust="spacingAndGlyphs">4</text>
<text x="199.60" y="18.40" font-size="11.5" textLength="6.80" lengthAdjust="spacingAndGlyphs" font-style="italic">π</text>
<path d="M207.90,10.20 L210.30,15.25 L207.90,20.30" fill="none" stroke="#000" stroke-width="0.65"/>
<text x="82.50" y="29.80" font-size="11" textLength="95.00" lengthAdjust="spacingAndGlyphs">Fluctuating Maxwell:</text>
<text x="181.30" y="29.80" font-size="11" textLength="7.20" lengthAdjust="spacingAndGlyphs">−</text>
<path d="M192.10,21.60 L189.70,26.65 L192.10,31.70" fill="none" stroke="#000" stroke-width="0.65"/>
<text x="193.50" y="29.80" font-size="11" textLength="4.90" lengthAdjust="spacingAndGlyphs" font-style="italic">δ</text>
<text x="198.80" y="29.80" font-size="11" textLength="6.30" lengthAdjust="spacingAndGlyphs" font-style="italic">B</text>
<text x="205.10" y="32.10" font-size="8.3" textLength="4.20" lengthAdjust="spacingAndGlyphs" font-style="italic">ϕ</text>
<text x="209.70" y="29.80" font-size="11" textLength="4.90" lengthAdjust="spacingAndGlyphs" font-style="italic">δ</text>
<text x="215.00" y="29.80" font-size="11" textLength="6.30" lengthAdjust="spacingAndGlyphs" font-style="italic">B</text>
<text x="221.30" y="32.00" font-size="8.3" textLength="5.00" lengthAdjust="spacingAndGlyphs" font-style="italic">R</text>
<path d="M226.60,31.60 L231.60,21.80" fill="none" stroke="#000" stroke-width="0.7"/>
<text x="232.60" y="29.80" font-size="11" textLength="5.60" lengthAdjust="spacingAndGlyphs">4</text>
<text x="238.90" y="29.80" font-size="11.5" textLength="6.80" lengthAdjust="spacingAndGlyphs" font-style="italic">π</text>
<path d="M247.00,21.60 L249.40,26.65 L247.00,31.70" fill="none" stroke="#000" stroke-width="0.65"/>
<text x="82.50" y="41.20" font-size="11" textLength="43.00" lengthAdjust="spacingAndGlyphs">Reynolds:</text>
<path d="M132.80,33.00 L130.40,38.05 L132.80,43.10" fill="none" stroke="#000" stroke-width="0.65"/>
<text x="133.60" y="41.20" font-size="11" textLength="4.80" lengthAdjust="spacingAndGlyphs" font-style="italic">ρ</text>
<text x="138.90" y="41.20" font-size="11" textLength="4.20" lengthAdjust="spacingAndGlyphs" font-style="italic">δ</text>
<text x="143.40" y="41.20" font-size="11" textLength="4.80" lengthAdjust="spacingAndGlyphs" font-style="italic">v</text>
<text x="148.20" y="43.50" font-size="8.3" textLength="4.20" lengthAdjust="spacingAndGlyphs" font-style="italic">ϕ</text>
<text x="152.60" y="41.20" font-size="11" textLength="4.20" lengthAdjust="spacingAndGlyphs" font-style="italic">δ</text>
<text x="157.10" y="41.20" font-size="11" textLength="4.80" lengthAdjust="spacingAndGlyphs" font-style="italic">v</text>
<text x="161.90" y="43.40" font-size="8.3" textLength="5.30" lengthAdjust="spacingAndGlyphs" font-style="italic">R</text>
<path d="M168.60,33.00 L171.00,38.05 L168.60,43.10" fill="none" stroke="#000" stroke-width="0.65"/>
<text x="153.20" y="289.10" font-size="12" textLength="99.30" lengthAdjust="spacingAndGlyphs">Distance from BH</text>
<text x="256.00" y="289.10" font-size="12" textLength="7.80" lengthAdjust="spacingAndGlyphs" font-style="italic">R</text>
<text x="268.60" y="289.10" font-size="12" textLength="19.00" lengthAdjust="spacingAndGlyphs">[pc]</text>
<g transform="translate(10.6,170.7) rotate(-90)">
<text x="0.00" y="0.00" font-size="12" textLength="30.60" lengthAdjust="spacingAndGlyphs">Stress</text>
<path d="M36.60,1.90 L41.80,-8.40" fill="none" stroke="#000" stroke-width="0.75"/>
<path d="M50.30,-9.00 L47.00,-2.90 L50.30,3.20" fill="none" stroke="#000" stroke-width="0.7"/>
<text x="51.50" y="0.00" font-size="12" textLength="5.70" lengthAdjust="spacingAndGlyphs" font-style="italic">ρ</text>
<text x="60.60" y="0.00" font-size="14" font-style="italic">V</text>
<text x="70.00" y="-4.60" font-size="8.4" textLength="4.70" lengthAdjust="spacingAndGlyphs">2</text>
<text x="68.80" y="3.20" font-size="8.6" textLength="4.00" lengthAdjust="spacingAndGlyphs" font-style="italic">c</text>
<path d="M76.00,-9.00 L79.10,-2.90 L76.00,3.20" fill="none" stroke="#000" stroke-width="0.7"/>
</g>
<text x="306.10" y="239.30" font-size="10.8" textLength="8.60" lengthAdjust="spacingAndGlyphs" font-style="italic" style="fill:#2ac142">M</text>
<circle cx="311.2" cy="230.6" r="0.6" fill="#2ac142"/>
<path d="M315.40,241.10 L320.20,231.50" fill="none" stroke="#2ac142" stroke-width="0.7"/>
<text x="321.20" y="239.30" font-size="10.8" textLength="4.80" lengthAdjust="spacingAndGlyphs" style="fill:#2ac142">3</text>
<text x="326.30" y="239.30" font-size="10.8" textLength="6.20" lengthAdjust="spacingAndGlyphs" font-style="italic" style="fill:#2ac142">π</text>
<text x="333.30" y="239.30" font-size="10.8" textLength="6.30" lengthAdjust="spacingAndGlyphs" font-style="italic" style="fill:#2ac142">R</text>
<text x="344.00" y="239.30" font-size="10.8" textLength="5.80" lengthAdjust="spacingAndGlyphs" font-style="italic" style="fill:#2ac142">V</text>
<text x="349.80" y="240.90" font-size="7.5" textLength="2.70" lengthAdjust="spacingAndGlyphs" font-style="italic" style="fill:#2ac142">c</text>
<text x="355.10" y="239.30" font-size="10.8" textLength="6.20" lengthAdjust="spacingAndGlyphs" style="fill:#2ac142">Σ</text>
<text x="361.80" y="240.70" font-size="7.5" textLength="10.20" lengthAdjust="spacingAndGlyphs" style="fill:#2ac142">gas</text>
</svg></body></html>
